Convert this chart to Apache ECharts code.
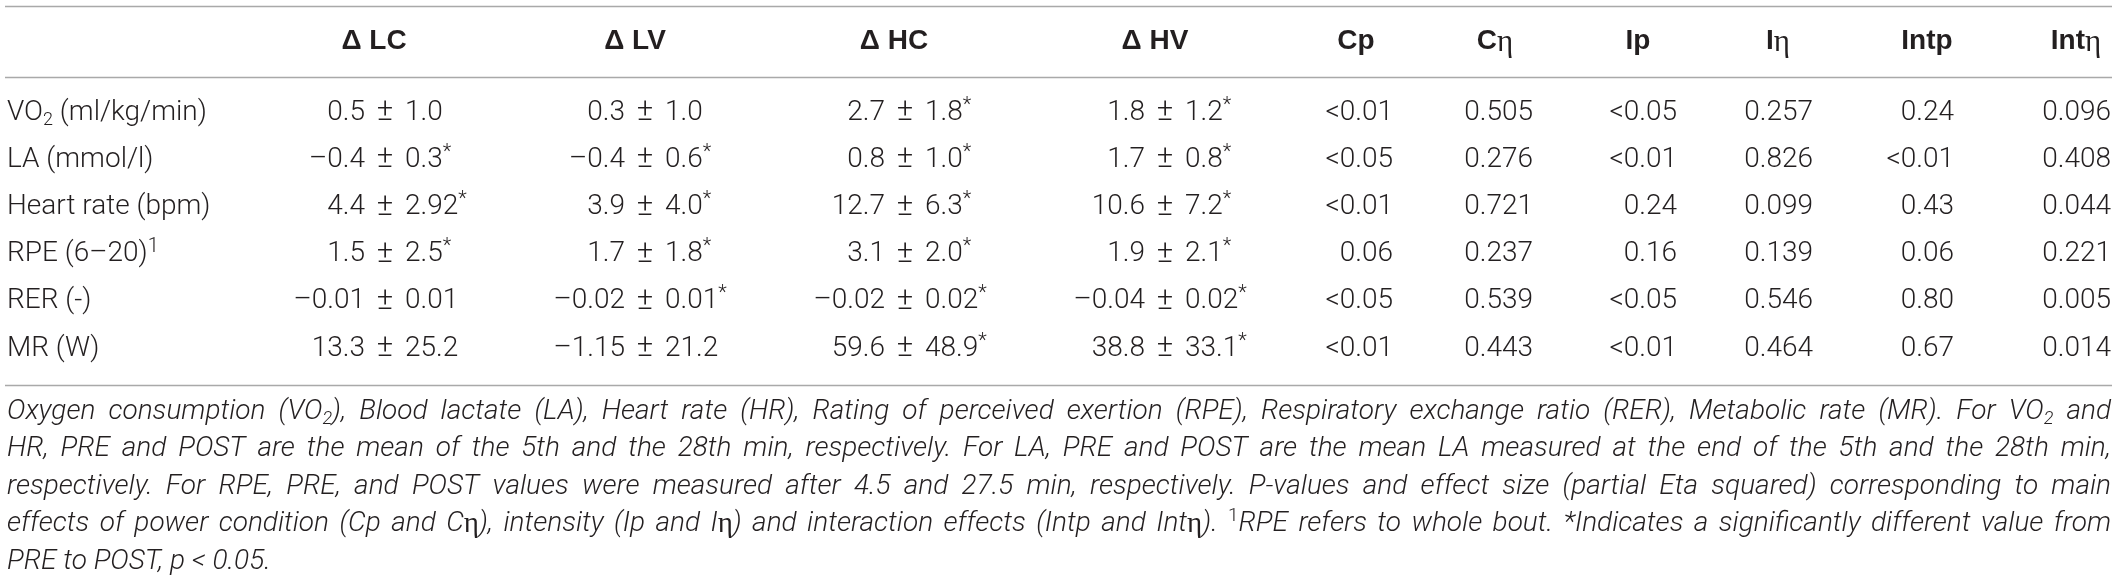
<!DOCTYPE html>
<html><head><meta charset="utf-8">
<script src="https://cdn.jsdelivr.net/npm/echarts@6/dist/echarts.min.js"></script>
<style>html,body{margin:0;padding:0;background:#fff}#c{width:2119px;height:583px}</style>
</head><body><div id="c"></div>
<script>
// ---------------- data ----------------
const rowLabels = ['VO{s|2} (ml/kg/min)', 'LA (mmol/l)', 'Heart rate (bpm)', 'RPE (6–20){p|1}', 'RER (-)', 'MR (W)'];
const headers = ['Δ LC', 'Δ LV', 'Δ HC', 'Δ HV', 'Cp', 'C{e|η}', 'Ip', 'I{e|η}', 'Intp', 'Int{e|η}'];
const deltaLC = ['0.5 ± 1.0', '–0.4 ± 0.3*', '4.4 ± 2.92*', '1.5 ± 2.5*', '–0.01 ± 0.01', '13.3 ± 25.2'];
const deltaLV = ['0.3 ± 1.0', '–0.4 ± 0.6*', '3.9 ± 4.0*', '1.7 ± 1.8*', '–0.02 ± 0.01*', '–1.15 ± 21.2'];
const deltaHC = ['2.7 ± 1.8*', '0.8 ± 1.0*', '12.7 ± 6.3*', '3.1 ± 2.0*', '–0.02 ± 0.02*', '59.6 ± 48.9*'];
const deltaHV = ['1.8 ± 1.2*', '1.7 ± 0.8*', '10.6 ± 7.2*', '1.9 ± 2.1*', '–0.04 ± 0.02*', '38.8 ± 33.1*'];
const colCp   = ['<0.01', '<0.05', '<0.01', '0.06', '<0.05', '<0.01'];
const colCeta = ['0.505', '0.276', '0.721', '0.237', '0.539', '0.443'];
const colIp   = ['<0.05', '<0.01', '0.24', '0.16', '<0.05', '<0.01'];
const colIeta = ['0.257', '0.826', '0.099', '0.139', '0.546', '0.464'];
const colIntp = ['0.24', '<0.01', '0.43', '0.06', '0.80', '0.67'];
const colInteta = ['0.096', '0.408', '0.044', '0.221', '0.005', '0.014'];
const captionLines = [
  'Oxygen consumption (VO{s|2}), Blood lactate (LA), Heart rate (HR), Rating of perceived exertion (RPE), Respiratory exchange ratio (RER), Metabolic rate (MR). For VO{s|2} and',
  'HR, PRE and POST are the mean of the 5th and the 28th min, respectively. For LA, PRE and POST are the mean LA measured at the end of the 5th and the 28th min,',
  'respectively. For RPE, PRE, and POST values were measured after 4.5 and 27.5 min, respectively. P-values and effect size (partial Eta squared) corresponding to main',
  'effects of power condition (Cp and C{e|η}), intensity (Ip and I{e|η}) and interaction effects (Intp and Int{e|η}). {p|1}RPE refers to whole bout. *Indicates a significantly different value from',
  'PRE to POST, p < 0.05.'
];
const columns = [deltaLC, deltaLV, deltaHC, deltaHV, colCp, colCeta, colIp, colIeta, colIntp, colInteta];

// ---------------- layout (not data) ----------------
const W = 2119, H = 583;
const ROW0 = 112.5, ROWH = 47.2;          // pixel centre of first body row, row pitch
const PM_X = [385, 645, 905, 1165];       // ± anchor of delta columns
const RIGHT_X = [1393, 1533, 1677, 1813, 1954, 2111]; // right edge of p / eta columns
const HEAD_X = [374, 635, 894, 1155, 1356, 1495, 1638, 1778, 1927, 2076];
const LEFT_X = 7, RULE_X0 = 5, RULE_X1 = 2112, CAP_X1 = 2111;
const PM_GAP = 20;
const HEAD_ROW = -1.5;
const RULE_ROWS = [-2.265, -0.752, 5.77];
const CAP_ROW0 = 6.34, CAP_DR = 0.7945;

const INK = '#231f20';
const FF = 'Roboto';
function st(o) { return Object.assign({ fontFamily: FF, fontWeight: 300, fontSize: 28, fill: INK }, o); }
const bodyRich = {
  s: st({ fontSize: 18, lineHeight: 18, verticalAlign: 'bottom' }),
  p: st({ fontSize: 20, lineHeight: 24, verticalAlign: 'top' }),
  a: st({ fontSize: 20, lineHeight: 28, verticalAlign: 'top' }),
  e: { fontFamily: 'Liberation Serif', fontWeight: 'normal', fontSize: 30, fill: INK }
};
const headRich = {
  e: { fontFamily: 'Liberation Serif', fontWeight: 'normal', fontSize: 31, fill: INK, lineHeight: 30, verticalAlign: 'bottom' }
};
const capBase = { fontFamily: FF, fontWeight: 300, fontStyle: 'italic', fontSize: 28, fill: INK };
const capRich = {
  s: Object.assign({}, capBase, { fontSize: 18, lineHeight: 18, verticalAlign: 'bottom' }),
  p: Object.assign({}, capBase, { fontStyle: 'normal', fontSize: 19, lineHeight: 22, verticalAlign: 'top' }),
  e: { fontFamily: 'Liberation Serif', fontStyle: 'normal', fontWeight: 'normal', fontSize: 29, fill: INK }
};

// text measuring for justified caption
const mctx = document.createElement('canvas').getContext('2d');
function fontStr(s) { return [s.fontStyle || 'normal', s.fontWeight || 'normal', s.fontSize + 'px', s.fontFamily].join(' '); }
function measureRich(str, base, rich) {
  let w = 0, last = 0, m; const re = /\{(\w+)\|([^}]*)\}/g;
  while ((m = re.exec(str))) {
    if (m.index > last) { mctx.font = fontStr(base); w += mctx.measureText(str.slice(last, m.index)).width; }
    mctx.font = fontStr(rich[m[1]]); w += mctx.measureText(m[2]).width; last = re.lastIndex;
  }
  if (last < str.length) { mctx.font = fontStr(base); w += mctx.measureText(str.slice(last)).width; }
  return w;
}

const chart = echarts.init(document.getElementById('c'), null, { renderer: 'canvas', width: W, height: H });

const cellData = [];
columns.forEach((col, c) => col.forEach((v, r) => cellData.push([c < 4 ? PM_X[c] : RIGHT_X[c - 4], r, c])));

chart.setOption({
  animation: false,
  grid: { left: 0, right: 0, top: 0, bottom: 0 },
  xAxis: { type: 'value', min: 0, max: W, show: false },
  yAxis: { type: 'value', inverse: true, min: -ROW0 / ROWH, max: (H - ROW0) / ROWH, show: false },
  series: [
    { // horizontal rules
      type: 'custom', silent: true,
      data: RULE_ROWS.map(r => [r]),
      renderItem: (p, api) => {
        const a = api.coord([RULE_X0, api.value(0)]), b = api.coord([RULE_X1, api.value(0)]);
        return { type: 'line', shape: { x1: a[0], y1: Math.round(a[1]) + 0.5, x2: b[0], y2: Math.round(b[1]) + 0.5 },
          style: { stroke: '#a9a9a9', lineWidth: 1.6 } };
      }
    },
    { // column headers
      type: 'custom', silent: true,
      data: headers.map((h, i) => [HEAD_X[i], HEAD_ROW]),
      renderItem: (p, api) => {
        const pt = api.coord([api.value(0), api.value(1)]);
        return { type: 'text', style: { text: headers[p.dataIndex], x: pt[0], y: pt[1], align: 'center', verticalAlign: 'middle',
          fontFamily: 'Liberation Sans', fontWeight: 'bold', fontSize: 28, lineHeight: 34, fill: INK, rich: headRich } };
      }
    },
    { // row labels
      type: 'custom', silent: true,
      data: rowLabels.map((l, i) => [LEFT_X, i]),
      renderItem: (p, api) => {
        const pt = api.coord([api.value(0), api.value(1)]);
        return { type: 'text', style: st({ text: rowLabels[p.dataIndex], x: pt[0], y: pt[1], align: 'left', verticalAlign: 'middle', lineHeight: 34, rich: bodyRich }) };
      }
    },
    { // body cells
      type: 'custom', silent: true,
      data: cellData,
      renderItem: (p, api) => {
        const c = api.value(2), r = api.value(1);
        const pt = api.coord([api.value(0), r]);
        const txt = columns[c][r];
        if (c < 4) {
          const parts = txt.split(' ± ');
          return { type: 'group', children: [
            { type: 'text', style: st({ text: parts[0], x: pt[0] - PM_GAP, y: pt[1], align: 'right', verticalAlign: 'middle' }) },
            { type: 'text', style: st({ text: '±', x: pt[0], y: pt[1], align: 'center', verticalAlign: 'middle', fontSize: 31 }) },
            { type: 'text', style: st({ text: parts[1].replace('*', '{a|*}'), x: pt[0] + PM_GAP, y: pt[1], align: 'left', verticalAlign: 'middle', lineHeight: 34, rich: bodyRich }) }
          ] };
        }
        return { type: 'text', style: st({ text: txt, x: pt[0], y: pt[1], align: 'right', verticalAlign: 'middle' }) };
      }
    },
    { // caption (justified)
      type: 'custom', silent: true,
      data: captionLines.map((l, k) => [LEFT_X, CAP_ROW0 + k * CAP_DR]),
      renderItem: (p, api) => {
        const pt = api.coord([api.value(0), api.value(1)]);
        const line = captionLines[p.dataIndex];
        const words = line.split(' ');
        const widths = words.map(w => measureRich(w, capBase, capRich));
        mctx.font = fontStr(capBase);
        const space = mctx.measureText(' ').width;
        const total = widths.reduce((a, b) => a + b, 0);
        const last = p.dataIndex === captionLines.length - 1;
        const gap = last ? space : (CAP_X1 - pt[0] - total) / (words.length - 1);
        let x = pt[0];
        const children = words.map((w, i) => {
          const el = { type: 'text', style: Object.assign({}, capBase, { text: w, x: x, y: pt[1], align: 'left', verticalAlign: 'middle', lineHeight: 34, rich: capRich }) };
          x += widths[i] + gap;
          return el;
        });
        return { type: 'group', children };
      }
    }
  ]
});
</script></body></html>
